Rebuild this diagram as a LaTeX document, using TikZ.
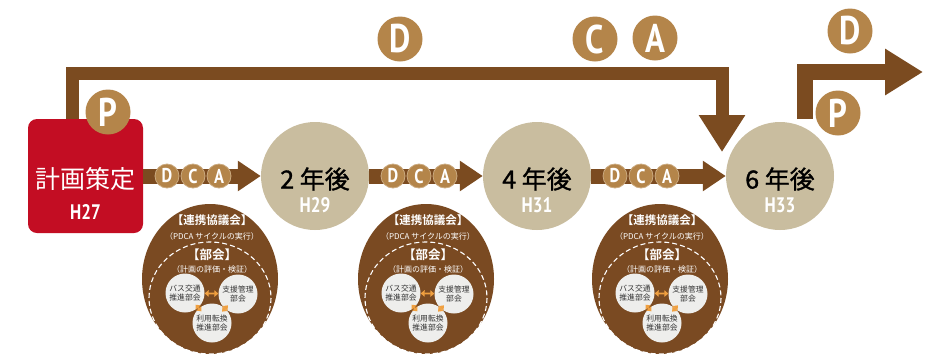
\documentclass[tikz,border=0pt]{standalone}
\usepackage{fontspec}
\usepackage{graphicx}
\usetikzlibrary{arrows.meta,shapes.geometric,calc}
\newfontfamily\jp[BoldFont=* Bold]{Noto Sans CJK JP}
\newfontfamily\jpm[FakeBold=1.2]{Noto Sans CJK JP}
\newfontfamily\lat{PT Sans}
\newcommand\condtxt[1]{\scalebox{0.82}[1]{#1}}
\definecolor{arrowbrown}{HTML}{7B4B20}
\definecolor{bronze}{HTML}{B4854A}
\definecolor{councilbrown}{HTML}{7A4A22}
\definecolor{beige}{HTML}{C9BD9F}
\definecolor{planred}{HTML}{C30D23}
\definecolor{orangearr}{HTML}{F0A040}
\definecolor{bubble}{HTML}{EEEEEC}
\tikzset{
  yearc/.style={circle, fill=beige, minimum size=108pt, inner sep=0pt},
  yeartxt/.style={font=\jpm\fontsize{25}{25}\selectfont, text=black, inner sep=0pt},
  yearh/.style={font=\lat\bfseries\fontsize{21}{21}\selectfont, text=white, inner sep=0pt},
  bigc/.style={circle, fill=bronze, minimum size=45pt, inner sep=0pt, text=white, font=\lat\bfseries\fontsize{40}{40}\selectfont},
  smallc/.style={circle, fill=bronze, draw=bronze!70!white, line width=0.8pt, minimum size=24pt, inner sep=0pt, text=white, font=\lat\bfseries\fontsize{20}{20}\selectfont},
  dcaarrow/.style={draw=arrowbrown, line width=15pt, -{Triangle[length=23pt,width=29pt]}},
  looparrow/.style={draw=arrowbrown, line width=13pt, line join=miter, -{Triangle[length=37pt,width=44pt]}},
  nextarrow/.style={draw=arrowbrown, line width=16pt, line join=miter, -{Triangle[length=38pt,width=44pt]}},
  council/.style={ellipse, fill=councilbrown, minimum width=136pt, minimum height=150pt, inner sep=0pt},
  cttl/.style={font=\jp\bfseries\fontsize{11.5}{11.5}\selectfont, text=white, inner sep=0pt},
  csub/.style={font=\jp\fontsize{8}{8}\selectfont, text=white, inner sep=0pt},
  bukai/.style={font=\jp\bfseries\fontsize{12.5}{12.5}\selectfont, text=white, inner sep=0pt},
  bub/.style={circle, fill=bubble, minimum size=39pt, inner sep=0pt, align=center, text=black!80, font=\jp\fontsize{7.8}{9}\selectfont},
  orarr/.style={draw=orangearr, line width=1.8pt, {Triangle[length=4pt,width=6.5pt]}-{Triangle[length=4pt,width=6.5pt]}},
  dashring/.style={draw=white, line width=1.1pt, dash pattern=on 5pt off 3pt}
}
\begin{document}
\begin{tikzpicture}[x=1pt,y=-1pt]
\useasboundingbox (0,0) rectangle (942,354);
\fill[white] (0,0) rectangle (942,354);

% plan box
\node[rectangle, rounded corners=9pt, fill=planred, minimum width=115pt, minimum height=114pt, inner sep=0pt] (plan) at (85.5,176) {};
\node[font=\jp\fontsize{25}{25}\selectfont, text=white, inner sep=0pt] (plantxt) at (85.5,179) {計画策定};
\node[yearh] (planh) at (85.5,212) {\condtxt{H27}};

% year circles
\node[yearc] (y2) at (315,176) {};
\node[yeartxt] (y2t) at (315,179) {2 年後};
\node[yearh] (y2h) at (315,205) {\condtxt{H29}};
\node[yearc] (y4) at (537,176) {};
\node[yeartxt] (y4t) at (537,179) {4 年後};
\node[yearh] (y4h) at (537,205) {\condtxt{H31}};
\node[yearc] (y6) at (780,176) {};
\node[yeartxt] (y6t) at (780,179) {6 年後};
\node[yearh] (y6h) at (780,205) {\condtxt{H33}};

% big loop arrow
\coordinate (tl) at (72,73);
\coordinate (tr) at (722,73);
\coordinate (tend) at (722,152);
\draw[looparrow] (plan.north -| tl) -- (tl) -- (tr) -- (tend);

% next cycle arrow
\coordinate (nb) at (805,119);
\coordinate (nc) at (805,72);
\coordinate (nt) at (923,72);
\draw[nextarrow] (nb) -- (nc) -- (nt);

% big PDCA circles
\node[bigc] (p1) at (108,112) {\condtxt{P}};
\node[bigc] (d1) at (400,39) {\condtxt{D}};
\node[bigc] (c1) at (595,39) {\condtxt{C}};
\node[bigc] (a1) at (655,38) {\condtxt{A}};
\node[bigc] (d2) at (850,31) {\condtxt{D}};
\node[bigc] (p2) at (838,113) {\condtxt{P}};

% DCA arrows
\draw[dcaarrow] (plan.east |- y2.west) -- (y2.west);
\draw[dcaarrow] (y2.east) -- (y4.west);
\draw[dcaarrow] (y4.east) -- (y6.west);
\foreach \s/\n in {143/a,369/b,591/c}{
  \node[smallc] (dca\n D) at (\s+24,176) {\condtxt{D}};
  \node[smallc] (dca\n C) at (\s+50,176) {\condtxt{C}};
  \node[smallc] (dca\n A) at (\s+76,176) {\condtxt{A}};
}

% council bubbles
\foreach \cx/\n in {210/a,426/b,660/c}{
  \node[council] (co\n) at (\cx,279) {};
  \draw[dashring] (\cx,298) ellipse (61 and 56);
  \node[cttl] (ttl\n) at (\cx+2,220) {【連携協議会】};
  \node[csub] (sub\n) at (\cx+2,236) {（PDCA サイクルの実行）};
  \node[bukai] (bk\n) at (\cx+2,255) {【部会】};
  \node[csub] (ev\n) at (\cx+2,269) {（計画の評価・検証）};
  \node[bub] (bus\n) at (\cx-25,293) {バス交通\\推進部会};
  \node[bub] (sup\n) at (\cx+28,294) {支援管理\\部会};
  \node[bub] (use\n) at (\cx+2,323) {利用転換\\推進部会};
  \draw[orarr] (bus\n) -- (sup\n);
  \draw[orarr, shorten <=-4pt, shorten >=-4pt] (bus\n) -- (use\n);
  \draw[orarr, shorten <=-4pt, shorten >=-4pt] (sup\n) -- (use\n);
}
\end{tikzpicture}
\end{document}
